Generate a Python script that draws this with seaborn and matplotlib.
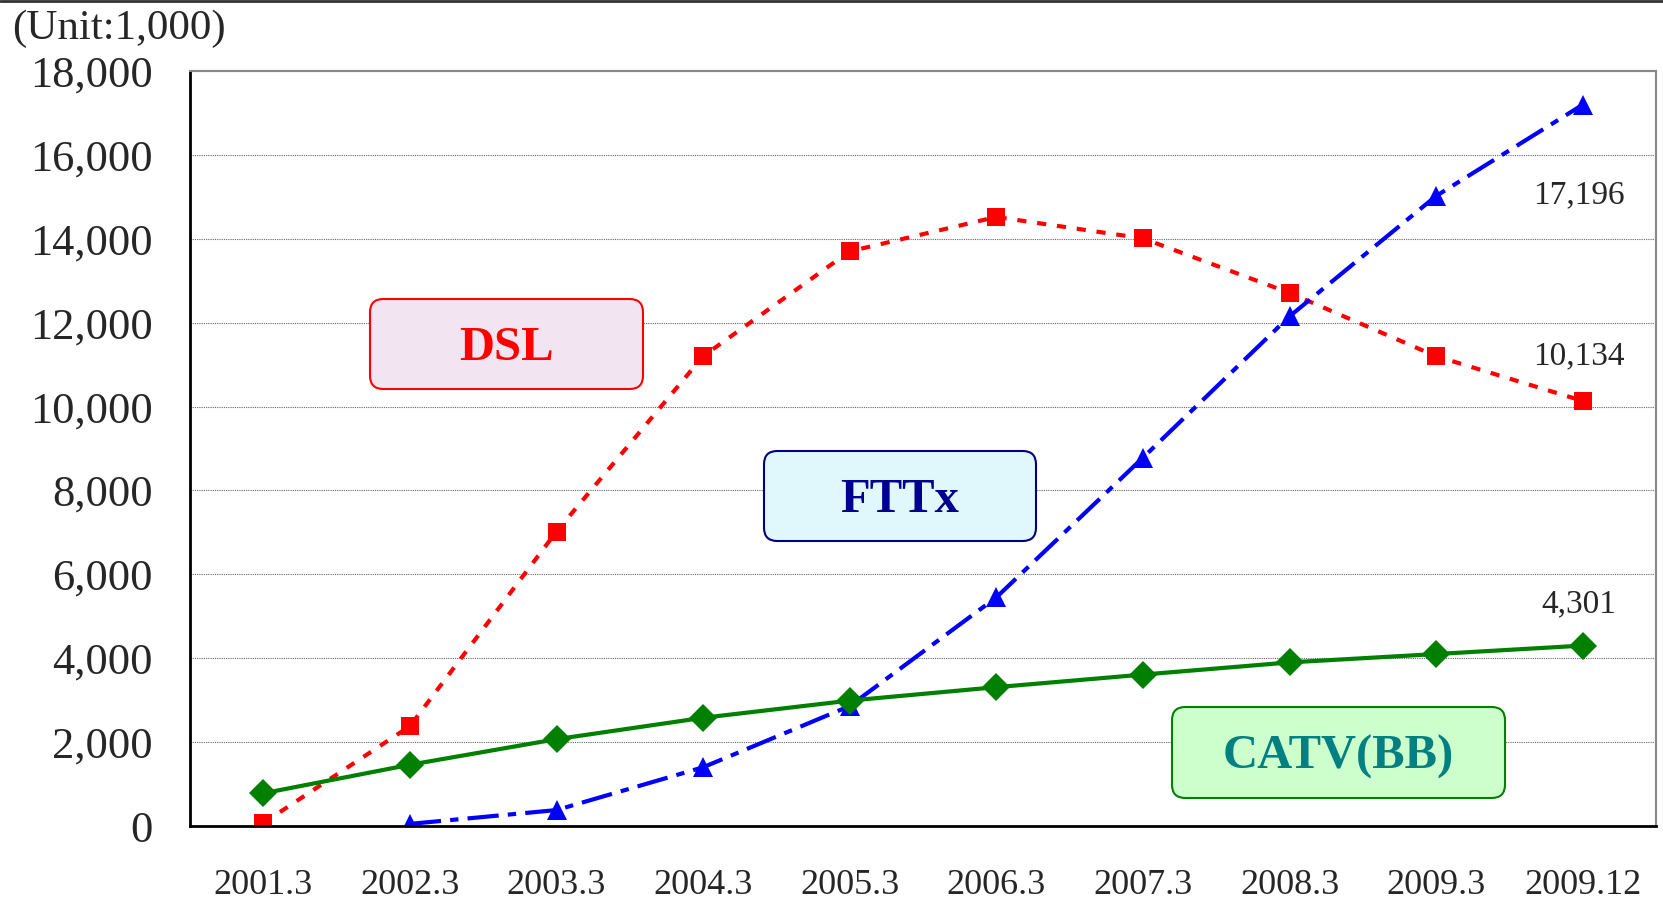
import numpy as np
import pandas as pd
import seaborn as sns
import matplotlib.pyplot as plt
from matplotlib.patches import FancyBboxPatch
from matplotlib.lines import Line2D
from matplotlib.ticker import FuncFormatter, FixedLocator

# subscribers, unit 1,000
periods = ["2001.3", "2002.3", "2003.3", "2004.3", "2005.3",
           "2006.3", "2007.3", "2008.3", "2009.3", "2009.12"]
dsl = [70, 2380, 7020, 11200, 13700, 14520, 14010, 12710, 11200, 10134]
fttx = [np.nan, 50, 380, 1400, 2860, 5450, 8780, 12150, 15020, 17196]
catv = [780, 1460, 2070, 2580, 2990, 3310, 3610, 3900, 4100, 4301]

sns.set_style("white")
plt.rcParams["font.family"] = ["Liberation Serif", "DejaVu Serif"]

df = pd.DataFrame({"pos": range(len(periods)), "DSL": dsl, "FTTx": fttx, "CATV": catv})

fig = plt.figure(figsize=(16.63, 9), dpi=100)
ax = fig.add_axes([190 / 1663, 1 - 826 / 900, 1466 / 1663, 755 / 900])

sns.lineplot(data=df, x="pos", y="DSL", ax=ax, color="#ff0000", lw=3,
             marker="s", markersize=13, markeredgewidth=0, dashes=(2.2, 2.6))
sns.lineplot(data=df.dropna(), x="pos", y="FTTx", ax=ax, color="#0000ff", lw=3,
             marker="^", markersize=14, markeredgewidth=0, dashes=(7.5, 2.2, 2, 2.2))
sns.lineplot(data=df, x="pos", y="CATV", ax=ax, color="#008000", lw=3,
             marker="D", markersize=14, markeredgewidth=0)

ax.set_xlim(-0.5, len(periods) - 0.5)
ax.set_ylim(0, 18000)
ax.set_xlabel("")
ax.set_ylabel("")

ax.set_xticks(range(len(periods)))
ax.set_xticklabels(periods)
ax.xaxis.set_minor_locator(FixedLocator(np.arange(0.5, len(periods) - 1, 1.0)))
ax.tick_params(axis="x", which="major", length=0, pad=31, labelsize=26)
ax.tick_params(axis="x", which="minor", direction="in", length=10, width=1.5, color="black")

ax.set_yticks(np.arange(0, 18001, 2000))
ax.yaxis.set_major_formatter(FuncFormatter(lambda v, p: f"{int(v):,}"))
ax.tick_params(axis="y", direction="in", length=10, width=2, pad=27, labelsize=32, color="black")

ax.grid(axis="y", color="#666666", linestyle=(0, (1, 1)), lw=0.8)
ax.set_axisbelow(True)
for s in ["left", "bottom"]:
    ax.spines[s].set_color("black")
    ax.spines[s].set_linewidth(2)
for s in ["top", "right"]:
    ax.spines[s].set_color("#888888")
    ax.spines[s].set_linewidth(1.5)

# end labels
last = len(periods) - 1
ax.annotate(f"{fttx[-1]:,}", (last, fttx[-1]), xytext=(-3, -65), textcoords="offset points",
            ha="center", va="center", fontsize=24)
ax.annotate(f"{dsl[-1]:,}", (last, dsl[-1]), xytext=(-3, 32), textcoords="offset points",
            ha="center", va="center", fontsize=24)
ax.annotate(f"{catv[-1]:,}", (last, catv[-1]), xytext=(-3, 30), textcoords="offset points",
            ha="center", va="center", fontsize=24)

# name boxes
boxes = [
    ("DSL", 370, 299, 273, 90, "#f2e4f0", "#ff0000", "#ff0000"),
    ("FTTx", 764, 451, 272, 90, "#e0f8fc", "#000080", "#000090"),
    ("CATV(BB)", 1172, 707, 333, 91, "#ccffcc", "#008000", "#008080"),
]
for name, x0, y0, w, h, fc, ec, tc in boxes:
    fx, fy, fw, fh = x0 / 1663, 1 - (y0 + h) / 900, w / 1663, h / 900
    fig.add_artist(FancyBboxPatch((fx, fy), fw, fh, boxstyle="round,pad=0,rounding_size=0.008",
                                  mutation_aspect=1663 / 900, transform=fig.transFigure,
                                  facecolor=fc, edgecolor=ec, lw=1.5))
    fig.text(fx + fw / 2, fy + fh / 2 - 0.005, name, ha="center", va="center",
             fontsize=35, fontweight="bold", color=tc)

fig.text(12 / 1663, 1 - 29 / 900, "(Unit:1,000)", ha="left", va="center", fontsize=31)
fig.add_artist(Line2D([0, 1], [0.999, 0.999], transform=fig.transFigure, color="#333333", lw=2))

fig.savefig("out.png", dpi=100)
